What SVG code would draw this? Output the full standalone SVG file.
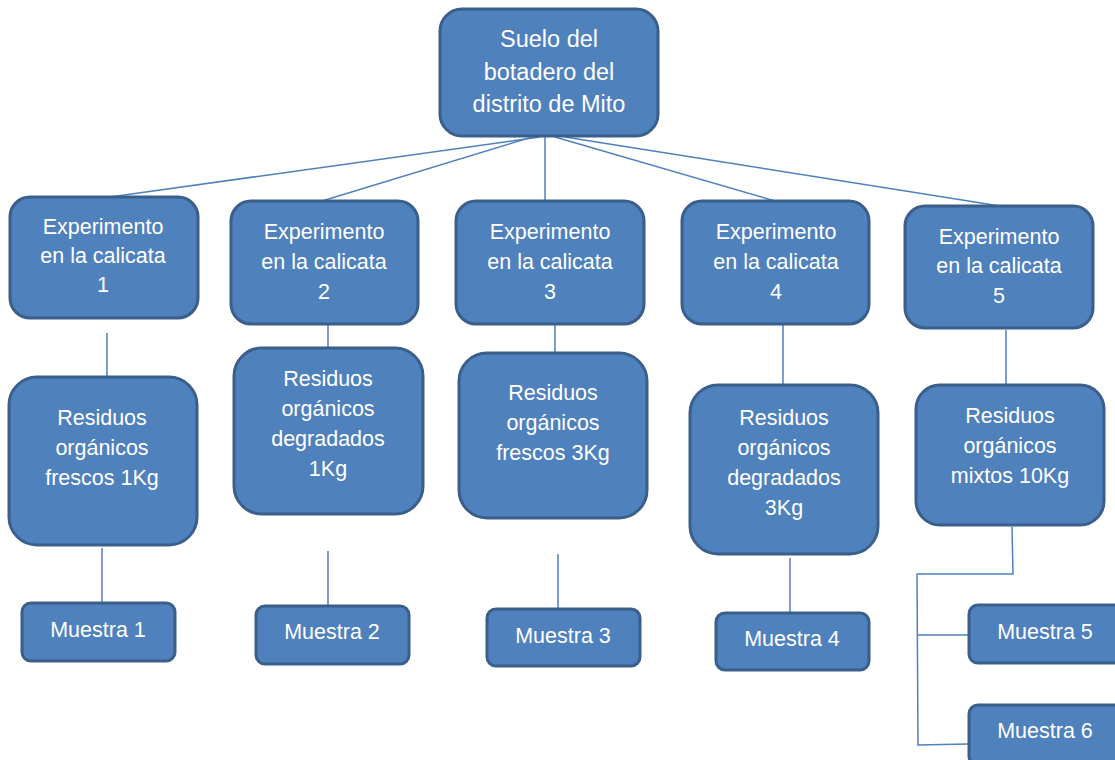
<svg xmlns="http://www.w3.org/2000/svg" width="1115" height="760" viewBox="0 0 1115 760">
<style>
.n{fill:#4F81BD;stroke:#3A5F8B;stroke-width:3}
.t{fill:#fff;font-family:"Liberation Sans",Arial,sans-serif;font-size:21.5px;text-anchor:middle;dominant-baseline:central}
.tt{font-size:23.5px}
.c{stroke:#4F81BD;stroke-width:1.5;fill:none}
</style>
<rect width="1115" height="760" fill="#fff"/>
<g id="connectors">
<line class="c" x1="540" y1="137" x2="110" y2="197"/>
<line class="c" x1="532" y1="137" x2="322" y2="201"/>
<line class="c" x1="545" y1="137" x2="545" y2="201"/>
<line class="c" x1="555" y1="137" x2="775" y2="201"/>
<line class="c" x1="565" y1="137" x2="1000" y2="206"/>
<line class="c" x1="107" y1="333" x2="107" y2="377"/>
<line class="c" x1="328" y1="324" x2="328" y2="348"/>
<line class="c" x1="555" y1="324" x2="555" y2="353"/>
<line class="c" x1="783" y1="324" x2="783" y2="385"/>
<line class="c" x1="1006" y1="330" x2="1006" y2="385"/>
<line class="c" x1="102" y1="548" x2="102" y2="603"/>
<line class="c" x1="328" y1="551" x2="328" y2="606"/>
<line class="c" x1="558" y1="554" x2="558" y2="609"/>
<line class="c" x1="790" y1="558" x2="790" y2="613"/>
<polyline class="c" points="1012,527 1013,574 917,574 918,745 968,744"/>
<line class="c" x1="918" y1="635" x2="968" y2="635"/>
</g>
<g id="root"><rect class="n" x="440" y="9" width="218" height="127" rx="22"/>
<text class="t tt" x="549" y="39">Suelo del</text><text class="t tt" x="549" y="72">botadero del</text><text class="t tt" x="549" y="104">distrito de Mito</text></g>
<g id="exp1"><rect class="n" x="10" y="197" width="188" height="121" rx="20"/>
<text class="t" x="103" y="227">Experimento</text><text class="t" x="103" y="256">en la calicata</text><text class="t" x="103" y="285">1</text></g>
<g id="exp2"><rect class="n" x="231" y="201" width="187" height="123" rx="20"/>
<text class="t" x="324" y="232">Experimento</text><text class="t" x="324" y="262">en la calicata</text><text class="t" x="324" y="292">2</text></g>
<g id="exp3"><rect class="n" x="456" y="201" width="188" height="123" rx="20"/>
<text class="t" x="550" y="232">Experimento</text><text class="t" x="550" y="262">en la calicata</text><text class="t" x="550" y="292">3</text></g>
<g id="exp4"><rect class="n" x="682" y="201" width="187" height="123" rx="20"/>
<text class="t" x="776" y="232">Experimento</text><text class="t" x="776" y="262">en la calicata</text><text class="t" x="776" y="292">4</text></g>
<g id="exp5"><rect class="n" x="905" y="206" width="188" height="122" rx="20"/>
<text class="t" x="999" y="237">Experimento</text><text class="t" x="999" y="266">en la calicata</text><text class="t" x="999" y="296">5</text></g>
<g id="res1"><rect class="n" x="9" y="377" width="188" height="168" rx="28"/>
<text class="t" x="102" y="418">Residuos</text><text class="t" x="102" y="448">orgánicos</text><text class="t" x="102" y="478">frescos 1Kg</text></g>
<g id="res2"><rect class="n" x="234" y="348" width="189" height="166" rx="28"/>
<text class="t" x="328" y="379">Residuos</text><text class="t" x="328" y="409">orgánicos</text><text class="t" x="328" y="439">degradados</text><text class="t" x="328" y="469">1Kg</text></g>
<g id="res3"><rect class="n" x="459" y="353" width="188" height="165" rx="28"/>
<text class="t" x="553" y="393">Residuos</text><text class="t" x="553" y="423">orgánicos</text><text class="t" x="553" y="453">frescos 3Kg</text></g>
<g id="res4"><rect class="n" x="690" y="385" width="188" height="169" rx="28"/>
<text class="t" x="784" y="418">Residuos</text><text class="t" x="784" y="448">orgánicos</text><text class="t" x="784" y="478">degradados</text><text class="t" x="784" y="508">3Kg</text></g>
<g id="res5"><rect class="n" x="916" y="385" width="188" height="140" rx="24"/>
<text class="t" x="1010" y="416">Residuos</text><text class="t" x="1010" y="446">orgánicos</text><text class="t" x="1010" y="476">mixtos 10Kg</text></g>
<g id="m1"><rect class="n" x="22" y="603" width="153" height="58" rx="9"/><text class="t" x="98" y="630">Muestra 1</text></g>
<g id="m2"><rect class="n" x="256" y="606" width="153" height="58" rx="9"/><text class="t" x="332" y="632">Muestra 2</text></g>
<g id="m3"><rect class="n" x="487" y="609" width="153" height="57" rx="9"/><text class="t" x="563" y="636">Muestra 3</text></g>
<g id="m4"><rect class="n" x="716" y="613" width="153" height="57" rx="9"/><text class="t" x="792" y="639">Muestra 4</text></g>
<g id="m5"><rect class="n" x="969" y="605" width="160" height="58" rx="9"/><text class="t" x="1045" y="632">Muestra 5</text></g>
<g id="m6"><rect class="n" x="969" y="705" width="160" height="60" rx="9"/><text class="t" x="1045" y="731">Muestra 6</text></g>
</svg>
